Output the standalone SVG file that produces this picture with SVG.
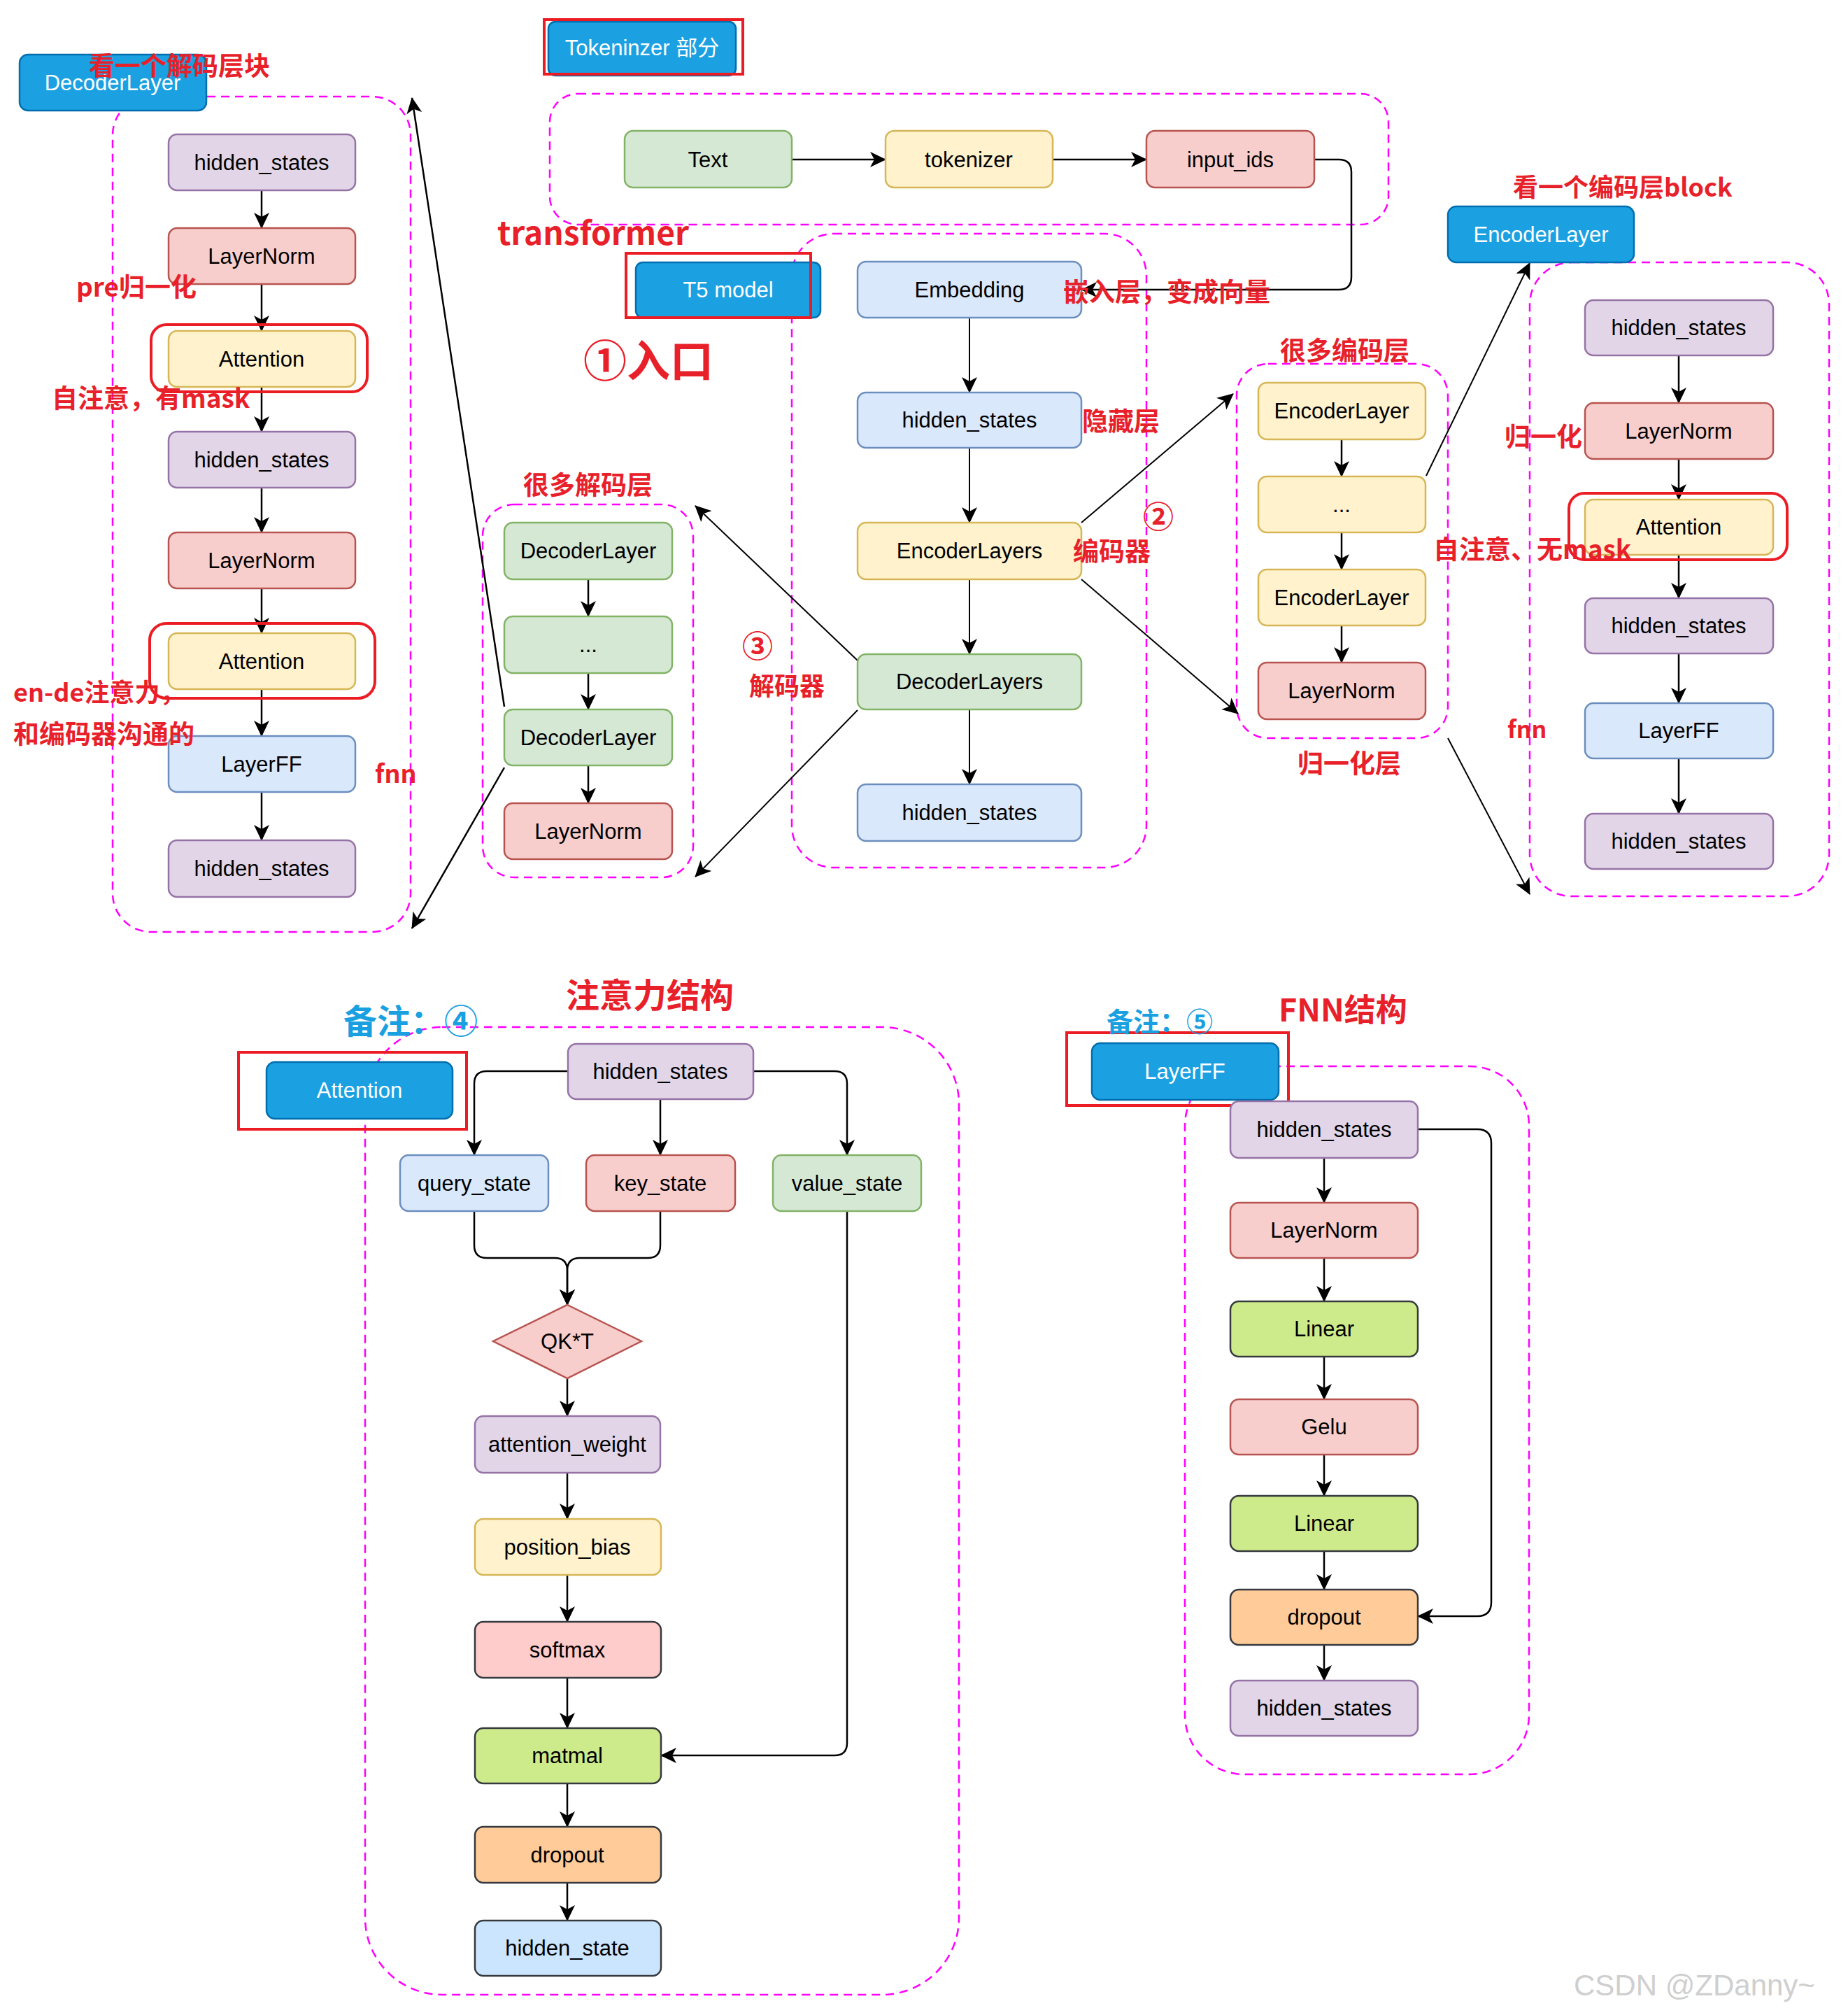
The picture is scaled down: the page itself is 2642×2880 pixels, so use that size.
<svg xmlns="http://www.w3.org/2000/svg" width="2642" height="2880" viewBox="0 0 2642 2880">
<style>
.bg{fill:#ffffff}
.n{stroke-width:2.5}
.pu{fill:#e1d5e7;stroke:#9673a6}
.rd{fill:#f8cecc;stroke:#b85450}
.ye{fill:#fff2cc;stroke:#d6b656}
.bl{fill:#dae8fc;stroke:#6c8ebf}
.gr{fill:#d5e8d4;stroke:#82b366}
.hd{fill:#1ba1e2;stroke:#006eaf}
.sm{fill:#ffcccc;stroke:#36393d}
.li{fill:#cdeb8b;stroke:#36393d}
.dr{fill:#ffcc99;stroke:#36393d}
.hs{fill:#cce5ff;stroke:#36393d}
.t{font-family:"Liberation Sans",Arial,Helvetica,sans-serif;font-size:31px;fill:#000;text-anchor:middle;dominant-baseline:central}
.tw{font-family:"Liberation Sans","Noto Sans CJK SC",Arial,sans-serif;font-size:31px;fill:#fff;text-anchor:middle;dominant-baseline:central}
.r{font-family:"Noto Sans CJK SC","Noto Sans",sans-serif;font-weight:700;fill:#e8202a;dominant-baseline:central}
.b{font-family:"Noto Sans CJK SC","Noto Sans",sans-serif;font-weight:700;fill:#19a0e0;dominant-baseline:central}
.box{fill:none;stroke:#ff00ff;stroke-width:2.5;stroke-dasharray:12 8}
.hl{fill:none;stroke:#ec1c24;stroke-width:4}
.c{fill:none;stroke:#000;stroke-width:2.5;marker-end:url(#ah)}
.c2{fill:none;stroke:#000;stroke-width:2;marker-end:url(#ah)}
.wm{font-family:"Liberation Sans",Arial,sans-serif;font-size:42px;fill:#cfcfcf}
</style>
<defs>
<marker id="ah" markerUnits="userSpaceOnUse" markerWidth="26" markerHeight="22" refX="22" refY="11" orient="auto">
<path d="M0,0 L23,11 L0,22 L6,11 Z" fill="#000"/>
</marker>
</defs>
<rect class="bg" x="0" y="0" width="2642" height="2880"/>

<!-- containers -->
<g id="containers">
<rect class="box" x="161" y="138" width="426" height="1194" rx="55"/>
<rect class="box" x="786" y="134" width="1199" height="187" rx="40"/>
<rect class="box" x="1132" y="334" width="507" height="906" rx="60"/>
<rect class="box" x="690" y="721" width="301" height="533" rx="45"/>
<rect class="box" x="1768" y="520" width="302" height="535" rx="45"/>
<rect class="box" x="2187" y="375" width="428" height="906" rx="60"/>
<rect class="box" x="522" y="1468" width="849" height="1383" rx="110"/>
<rect class="box" x="1694" y="1524" width="492" height="1012" rx="85"/>
</g>

<!-- connectors -->
<g id="connectors">
<line class="c" x1="374" y1="272" x2="374" y2="326"/>
<line class="c" x1="374" y1="406" x2="374" y2="473"/>
<line class="c" x1="374" y1="553" x2="374" y2="617"/>
<line class="c" x1="374" y1="697" x2="374" y2="761"/>
<line class="c" x1="374" y1="841" x2="374" y2="905"/>
<line class="c" x1="374" y1="985" x2="374" y2="1052"/>
<line class="c" x1="374" y1="1132" x2="374" y2="1201"/>
<line class="c" x1="1132" y1="228" x2="1266" y2="228"/>
<line class="c" x1="1505" y1="228" x2="1639" y2="228"/>
<path class="c" d="M1879,228 H1914 Q1932,228 1932,246 V396 Q1932,414 1914,414 H1546"/>
<line class="c2" x1="1386" y1="454" x2="1386" y2="561"/>
<line class="c2" x1="1386" y1="640" x2="1386" y2="747"/>
<line class="c2" x1="1386" y1="828" x2="1386" y2="935"/>
<line class="c2" x1="1386" y1="1014" x2="1386" y2="1121"/>
<line class="c" x1="721" y1="1010" x2="589" y2="140"/>
<line class="c" x1="721" y1="1097" x2="589" y2="1327"/>
<line class="c2" x1="1226" y1="944" x2="994" y2="723"/>
<line class="c2" x1="1226" y1="1015" x2="994" y2="1253"/>
<line class="c2" x1="1546" y1="747" x2="1763" y2="563"/>
<line class="c2" x1="1546" y1="828" x2="1770" y2="1020"/>
<line class="c2" x1="2039" y1="680" x2="2187" y2="376"/>
<line class="c2" x1="2070" y1="1055" x2="2187" y2="1278"/>
<line class="c" x1="841" y1="828" x2="841" y2="881"/>
<line class="c" x1="841" y1="962" x2="841" y2="1014"/>
<line class="c" x1="841" y1="1094" x2="841" y2="1148"/>
<line class="c" x1="1918" y1="628" x2="1918" y2="681"/>
<line class="c" x1="1918" y1="761" x2="1918" y2="814"/>
<line class="c" x1="1918" y1="894" x2="1918" y2="947"/>
<line class="c" x1="2400" y1="508" x2="2400" y2="576"/>
<line class="c" x1="2400" y1="656" x2="2400" y2="714"/>
<line class="c" x1="2400" y1="793" x2="2400" y2="855"/>
<line class="c" x1="2400" y1="934" x2="2400" y2="1005"/>
<line class="c" x1="2400" y1="1084" x2="2400" y2="1163"/>
<path class="c" d="M812,1531 H696 Q678,1531 678,1549 V1651"/>
<line class="c" x1="944" y1="1571" x2="944" y2="1651"/>
<path class="c" d="M1077,1531 H1193 Q1211,1531 1211,1549 V1651"/>
<path class="c" d="M678,1731 V1780 Q678,1798 696,1798 H793 Q811,1798 811,1816 V1865"/>
<path class="c" d="M944,1731 V1780 Q944,1798 926,1798 H829 Q811,1798 811,1816 V1865"/>
<line class="c" x1="811" y1="1970" x2="811" y2="2024"/>
<line class="c" x1="811" y1="2105" x2="811" y2="2171"/>
<line class="c" x1="811" y1="2251" x2="811" y2="2318"/>
<line class="c" x1="811" y1="2398" x2="811" y2="2470"/>
<line class="c" x1="811" y1="2549" x2="811" y2="2611"/>
<line class="c" x1="811" y1="2691" x2="811" y2="2745"/>
<path class="c" d="M1211,1731 V2491 Q1211,2509 1193,2509 H945"/>
<line class="c" x1="1893" y1="1655" x2="1893" y2="1719"/>
<line class="c" x1="1893" y1="1798" x2="1893" y2="1860"/>
<line class="c" x1="1893" y1="1939" x2="1893" y2="2000"/>
<line class="c" x1="1893" y1="2079" x2="1893" y2="2138"/>
<line class="c" x1="1893" y1="2217" x2="1893" y2="2272"/>
<line class="c" x1="1893" y1="2351" x2="1893" y2="2402"/>
<path class="c" d="M2027,1614 H2112 Q2132,1614 2132,1634 V2290 Q2132,2310 2112,2310 H2027"/>
</g>

<!-- decoder block -->
<g id="dec-block-title"><rect class="n hd" x="28" y="78" width="267" height="80" rx="12"/><text class="tw" x="161" y="118">DecoderLayer</text></g>
<g id="dec-hs1"><rect class="n pu" x="241" y="192" width="267" height="80" rx="12"/><text class="t" x="374" y="232">hidden_states</text></g>
<g id="dec-ln1"><rect class="n rd" x="241" y="326" width="267" height="80" rx="12"/><text class="t" x="374" y="366">LayerNorm</text></g>
<g id="dec-att1"><rect class="n ye" x="241" y="473" width="267" height="80" rx="12"/><text class="t" x="374" y="513">Attention</text></g>
<g id="dec-hs2"><rect class="n pu" x="241" y="617" width="267" height="80" rx="12"/><text class="t" x="374" y="657">hidden_states</text></g>
<g id="dec-ln2"><rect class="n rd" x="241" y="761" width="267" height="80" rx="12"/><text class="t" x="374" y="801">LayerNorm</text></g>
<g id="dec-att2"><rect class="n ye" x="241" y="905" width="267" height="80" rx="12"/><text class="t" x="374" y="945">Attention</text></g>
<g id="dec-ff"><rect class="n bl" x="241" y="1052" width="267" height="80" rx="12"/><text class="t" x="374" y="1092">LayerFF</text></g>
<g id="dec-hs3"><rect class="n pu" x="241" y="1201" width="267" height="81" rx="12"/><text class="t" x="374" y="1241">hidden_states</text></g>
<rect class="hl" x="216" y="464" width="309" height="96" rx="22"/>
<rect class="hl" x="214" y="891" width="322" height="107" rx="24"/>

<!-- tokenizer -->
<g id="tok-title"><rect class="n hd" x="784" y="31" width="268" height="77" rx="10"/><text class="tw" x="918" y="68">Tokeninzer 部分</text></g>
<rect class="hl" x="778" y="28" width="284" height="78"/>
<g id="tok-text"><rect class="n gr" x="893" y="187" width="239" height="81" rx="12"/><text class="t" x="1012" y="228">Text</text></g>
<g id="tok-tokenizer"><rect class="n ye" x="1266" y="187" width="239" height="81" rx="12"/><text class="t" x="1385" y="228">tokenizer</text></g>
<g id="tok-ids"><rect class="n rd" x="1639" y="187" width="240" height="81" rx="12"/><text class="t" x="1759" y="228">input_ids</text></g>

<!-- main column -->
<g id="t5"><rect class="n hd" x="909" y="375" width="264" height="79" rx="10"/><text class="tw" x="1041" y="414">T5 model</text></g>
<rect class="hl" x="895" y="362" width="264" height="92"/>
<g id="main-emb"><rect class="n bl" x="1226" y="374" width="320" height="80" rx="12"/><text class="t" x="1386" y="414">Embedding</text></g>
<g id="main-hs1"><rect class="n bl" x="1226" y="561" width="320" height="79" rx="12"/><text class="t" x="1386" y="600">hidden_states</text></g>
<g id="main-enc"><rect class="n ye" x="1226" y="747" width="320" height="81" rx="12"/><text class="t" x="1386" y="787">EncoderLayers</text></g>
<g id="main-dec"><rect class="n gr" x="1226" y="935" width="320" height="79" rx="12"/><text class="t" x="1386" y="974">DecoderLayers</text></g>
<g id="main-hs2"><rect class="n bl" x="1226" y="1121" width="320" height="81" rx="12"/><text class="t" x="1386" y="1161">hidden_states</text></g>

<!-- decoder many -->
<g id="dm-1"><rect class="n gr" x="721" y="747" width="240" height="81" rx="12"/><text class="t" x="841" y="787">DecoderLayer</text></g>
<g id="dm-2"><rect class="n gr" x="721" y="881" width="240" height="81" rx="12"/><text class="t" x="841" y="921">...</text></g>
<g id="dm-3"><rect class="n gr" x="721" y="1014" width="240" height="80" rx="12"/><text class="t" x="841" y="1054">DecoderLayer</text></g>
<g id="dm-ln"><rect class="n rd" x="721" y="1148" width="240" height="80" rx="12"/><text class="t" x="841" y="1188">LayerNorm</text></g>

<!-- encoder many -->
<g id="em-1"><rect class="n ye" x="1799" y="547" width="239" height="81" rx="12"/><text class="t" x="1918" y="587">EncoderLayer</text></g>
<g id="em-2"><rect class="n ye" x="1799" y="681" width="239" height="80" rx="12"/><text class="t" x="1918" y="721">...</text></g>
<g id="em-3"><rect class="n ye" x="1799" y="814" width="239" height="80" rx="12"/><text class="t" x="1918" y="854">EncoderLayer</text></g>
<g id="em-ln"><rect class="n rd" x="1799" y="947" width="239" height="81" rx="12"/><text class="t" x="1918" y="987">LayerNorm</text></g>

<!-- encoder block -->
<g id="enc-block-title"><rect class="n hd" x="2070" y="295" width="266" height="80" rx="12"/><text class="tw" x="2203" y="335">EncoderLayer</text></g>
<g id="enc-hs1"><rect class="n pu" x="2266" y="429" width="269" height="79" rx="12"/><text class="t" x="2400" y="468">hidden_states</text></g>
<g id="enc-ln"><rect class="n rd" x="2266" y="576" width="269" height="80" rx="12"/><text class="t" x="2400" y="616">LayerNorm</text></g>
<g id="enc-att"><rect class="n ye" x="2266" y="714" width="269" height="79" rx="12"/><text class="t" x="2400" y="753">Attention</text></g>
<g id="enc-hs2"><rect class="n pu" x="2266" y="855" width="269" height="79" rx="12"/><text class="t" x="2400" y="894">hidden_states</text></g>
<g id="enc-ff"><rect class="n bl" x="2266" y="1005" width="269" height="79" rx="12"/><text class="t" x="2400" y="1044">LayerFF</text></g>
<g id="enc-hs3"><rect class="n pu" x="2266" y="1163" width="269" height="79" rx="12"/><text class="t" x="2400" y="1202">hidden_states</text></g>
<rect class="hl" x="2243" y="705" width="312" height="95" rx="22"/>

<!-- attention structure -->
<g id="att-title"><rect class="n hd" x="381" y="1518" width="266" height="81" rx="12"/><text class="tw" x="514" y="1558">Attention</text></g>
<rect class="hl" x="341" y="1504" width="326" height="110"/>
<g id="att-hs"><rect class="n pu" x="812" y="1492" width="265" height="79" rx="12"/><text class="t" x="944" y="1531">hidden_states</text></g>
<g id="att-q"><rect class="n bl" x="572" y="1651" width="212" height="80" rx="12"/><text class="t" x="678" y="1691">query_state</text></g>
<g id="att-k"><rect class="n rd" x="838" y="1651" width="213" height="80" rx="12"/><text class="t" x="944" y="1691">key_state</text></g>
<g id="att-v"><rect class="n gr" x="1105" y="1651" width="212" height="80" rx="12"/><text class="t" x="1211" y="1691">value_state</text></g>
<g id="att-qk"><polygon class="n rd" points="811,1865 917,1917 811,1970 705,1917"/><text class="t" x="811" y="1917">QK*T</text></g>
<g id="att-w"><rect class="n pu" x="679" y="2024" width="265" height="81" rx="12"/><text class="t" x="811" y="2064">attention_weight</text></g>
<g id="att-pb"><rect class="n ye" x="679" y="2171" width="266" height="80" rx="12"/><text class="t" x="811" y="2211">position_bias</text></g>
<g id="att-sm"><rect class="n sm" x="679" y="2318" width="266" height="80" rx="12"/><text class="t" x="811" y="2358">softmax</text></g>
<g id="att-mm"><rect class="n li" x="679" y="2470" width="266" height="79" rx="12"/><text class="t" x="811" y="2509">matmal</text></g>
<g id="att-do"><rect class="n dr" x="679" y="2611" width="266" height="80" rx="12"/><text class="t" x="811" y="2651">dropout</text></g>
<g id="att-out"><rect class="n hs" x="679" y="2745" width="266" height="79" rx="12"/><text class="t" x="811" y="2784">hidden_state</text></g>

<!-- FNN -->
<g id="ff-title"><rect class="n hd" x="1561" y="1491" width="267" height="81" rx="12"/><text class="tw" x="1694" y="1531">LayerFF</text></g>
<rect class="hl" x="1525" y="1476" width="317" height="104"/>
<g id="ff-hs1"><rect class="n pu" x="1759" y="1574" width="268" height="81" rx="12"/><text class="t" x="1893" y="1614">hidden_states</text></g>
<g id="ff-ln"><rect class="n rd" x="1759" y="1719" width="268" height="79" rx="12"/><text class="t" x="1893" y="1758">LayerNorm</text></g>
<g id="ff-l1"><rect class="n li" x="1759" y="1860" width="268" height="79" rx="12"/><text class="t" x="1893" y="1899">Linear</text></g>
<g id="ff-gelu"><rect class="n rd" x="1759" y="2000" width="268" height="79" rx="12"/><text class="t" x="1893" y="2039">Gelu</text></g>
<g id="ff-l2"><rect class="n li" x="1759" y="2138" width="268" height="79" rx="12"/><text class="t" x="1893" y="2177">Linear</text></g>
<g id="ff-do"><rect class="n dr" x="1759" y="2272" width="268" height="79" rx="12"/><text class="t" x="1893" y="2311">dropout</text></g>
<g id="ff-hs2"><rect class="n pu" x="1759" y="2402" width="268" height="79" rx="12"/><text class="t" x="1893" y="2441">hidden_states</text></g>

<!-- annotations -->
<g id="annotations">
<text class="r" x="127" y="92" font-size="37">看一个解码层块</text>
<text class="r" x="109" y="408" font-size="37">pre归一化</text>
<text class="r" x="74" y="567" font-size="37">自注意，有mask</text>
<text class="r" x="19" y="987" font-size="36">en-de注意力，</text>
<text class="r" x="19" y="1047" font-size="37">和编码器沟通的</text>
<text class="r" x="536" y="1103" font-size="36">fnn</text>
<text class="r" x="711" y="330" font-size="46">transformer</text>
<text class="r" x="834" y="512" font-size="62">①入口</text>
<text class="r" x="1520" y="415" font-size="37">嵌入层，变成向量</text>
<text class="r" x="1547" y="600" font-size="37">隐藏层</text>
<text class="r" x="1534" y="786" font-size="37">编码器</text>
<text class="r" x="1634" y="736" font-size="44">②</text>
<text class="r" x="1830" y="499" font-size="37">很多编码层</text>
<text class="r" x="1855" y="1089" font-size="37">归一化层</text>
<text class="r" x="748" y="691" font-size="37">很多解码层</text>
<text class="r" x="1061" y="921" font-size="44">③</text>
<text class="r" x="1071" y="978" font-size="36">解码器</text>
<text class="r" x="2163" y="265" font-size="36">看一个编码层block</text>
<text class="r" x="2151" y="622" font-size="37">归一化</text>
<text class="r" x="2049" y="783" font-size="37">自注意、无mask</text>
<text class="r" x="2155" y="1040" font-size="34">fnn</text>
<text class="r" x="809" y="1419" font-size="48">注意力结构</text>
<text class="r" x="1828" y="1440" font-size="45">FNN结构</text>
<text class="b" x="491" y="1456" font-size="48">备注：④</text>
<text class="b" x="1582" y="1457" font-size="38">备注：⑤</text>
<text class="wm" x="2250" y="2852">CSDN @ZDanny~</text>
</g>
</svg>
